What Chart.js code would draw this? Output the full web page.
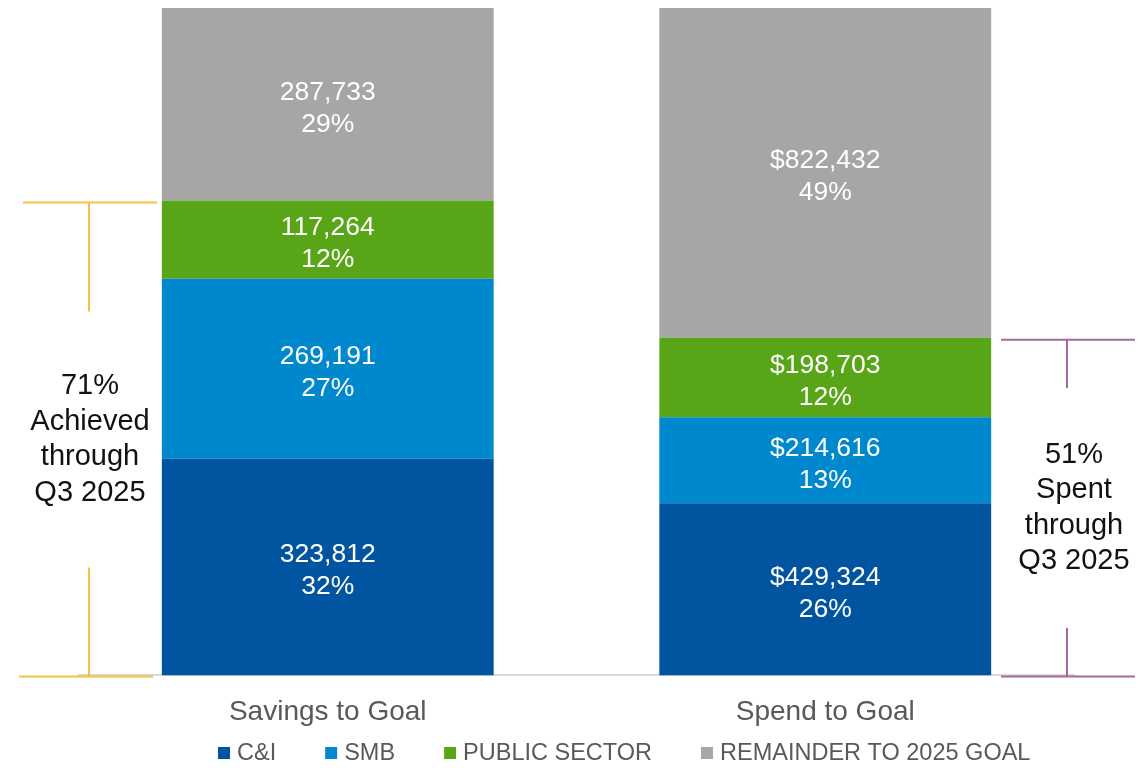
<!DOCTYPE html>
<html>
<head>
<meta charset="utf-8">
<script src="https://cdn.jsdelivr.net/npm/chart.js@4.4.1/dist/chart.umd.min.js"></script>
<style>
html, body { margin: 0; padding: 0; background: #fff; }
#wrap { width: 1148px; height: 768px; position: relative; }
</style>
</head>
<body>
<div id="wrap"><canvas id="chart"></canvas></div>
<script>
const categories = ['Savings to Goal', 'Spend to Goal'];
const seriesNames = ['C&I', 'SMB', 'PUBLIC SECTOR', 'REMAINDER TO 2025 GOAL'];
const seriesColors = ['#0054A0', '#0088CE', '#58A618', '#A6A6A6'];
const ciValues = [323812, 429324];
const smbValues = [269191, 214616];
const publicValues = [117264, 198703];
const remainderValues = [287733, 822432];
const valuePrefix = ['', '$'];
const bracketWords = [['Achieved', 'through', 'Q3 2025'], ['Spent', 'through', 'Q3 2025']];

const FONT = "'Liberation Sans', Arial, sans-serif";

// raw values -> share of each bar's total (100% stacked)
const rawSeries = [ciValues, smbValues, publicValues, remainderValues];
const totals = categories.map((c, i) => rawSeries.reduce((s, arr) => s + arr[i], 0));
const pctSeries = rawSeries.map(arr => arr.map((v, i) => v / totals[i] * 100));

function drawLabels(chart) {
    const ctx = chart.ctx;
    ctx.save();
    ctx.fillStyle = '#ffffff';
    ctx.font = '26.5px ' + FONT;
    ctx.textAlign = 'center';
    ctx.textBaseline = 'middle';
    chart.data.datasets.forEach((ds, d) => {
        const meta = chart.getDatasetMeta(d);
        meta.data.forEach((bar, i) => {
            const cy = (bar.y + bar.base) / 2 + 4;
            const raw = rawSeries[d][i];
            ctx.fillText(valuePrefix[i] + raw.toLocaleString('en-US'), bar.x, cy - 16);
            ctx.fillText(Math.round(pctSeries[d][i]) + '%', bar.x, cy + 16);
        });
    });
    ctx.restore();
}

function drawBrackets(chart) {
    const ctx = chart.ctx;
    const ca = chart.chartArea;
    const yScale = chart.scales.y;
    const setups = [
        { lineX: ca.left + 10, textX: ca.left + 11, top1: ca.left - 56, top2: ca.left + 78, bot1: ca.left - 60, bot2: ca.left + 74, gap: 128, color: '#F5C142' },
        { lineX: ca.right - 7, textX: ca.right, top1: ca.right - 73, top2: ca.right + 61, bot1: ca.right - 73, bot2: ca.right + 61, gap: 120, color: '#A2689F' }
    ];
    ctx.save();
    setups.forEach((s, i) => {
        const donePct = 100 - pctSeries[3][i];
        const yTop = yScale.getPixelForValue(donePct) + 2;
        const yBot = yScale.getPixelForValue(0) + 1;
        const mid = (yTop + yBot) / 2;
        ctx.strokeStyle = s.color;
        ctx.lineWidth = 2;
        ctx.beginPath();
        ctx.moveTo(s.top1, yTop); ctx.lineTo(s.top2, yTop);
        ctx.moveTo(s.lineX, yTop); ctx.lineTo(s.lineX, mid - s.gap);
        ctx.moveTo(s.lineX, mid + s.gap); ctx.lineTo(s.lineX, yBot);
        ctx.moveTo(s.bot1, yBot); ctx.lineTo(s.bot2, yBot);
        ctx.stroke();

        const lines = [Math.round(donePct) + '%'].concat(bracketWords[i]);
        ctx.fillStyle = '#111111';
        ctx.font = '29px ' + FONT;
        ctx.textAlign = 'center';
        ctx.textBaseline = 'middle';
        lines.forEach((t, k) => {
            ctx.fillText(t, s.textX, mid + (k - 1.5) * 35.5);
        });
    });
    ctx.restore();
}

function drawLegend(chart) {
    const ctx = chart.ctx;
    ctx.save();
    ctx.font = '23.5px ' + FONT;
    ctx.textBaseline = 'middle';
    let x = 218;
    const y = 753;
    seriesNames.forEach((name, i) => {
        ctx.fillStyle = seriesColors[i];
        ctx.fillRect(x, y - 6, 12, 12);
        ctx.fillStyle = '#595959';
        ctx.fillText(name, x + 19, y + 1);
        x += 19 + ctx.measureText(name).width + 49;
    });
    ctx.restore();
}

const overlayPlugin = {
    id: 'overlay',
    afterDatasetsDraw(chart) {
        drawLabels(chart);
    },
    afterDraw(chart) {
        drawBrackets(chart);
        drawLegend(chart);
    }
};

const ctx = document.getElementById('chart').getContext('2d');
new Chart(ctx, {
    type: 'bar',
    data: {
        labels: categories,
        datasets: seriesNames.map((name, d) => ({
            label: name,
            data: pctSeries[d],
            backgroundColor: seriesColors[d],
            borderWidth: 0,
            barPercentage: 1,
            categoryPercentage: 0.667
        }))
    },
    options: {
        responsive: true,
        maintainAspectRatio: false,
        animation: false,
        layout: { padding: { left: 79, right: 74, top: 8, bottom: 19 } },
        plugins: {
            legend: { display: false },
            tooltip: { enabled: false }
        },
        scales: {
            x: {
                stacked: true,
                grid: { display: false, drawTicks: false },
                border: { color: '#D9D9D9', width: 2 },
                ticks: { color: '#595959', font: { family: FONT, size: 28 }, padding: 20 }
            },
            y: {
                stacked: true,
                display: false,
                min: 0,
                max: 100
            }
        }
    },
    plugins: [overlayPlugin]
});
</script>
</body>
</html>
